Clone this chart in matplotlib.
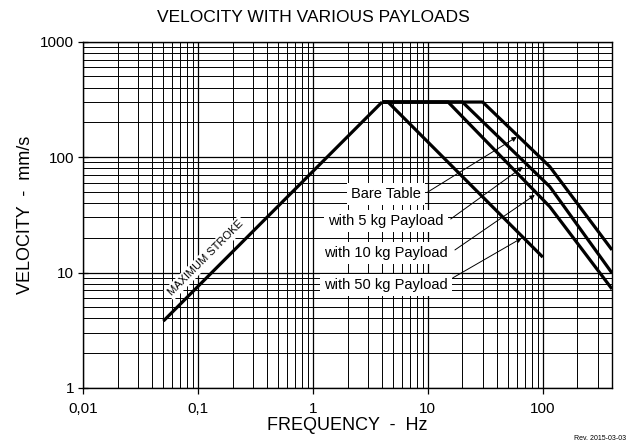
import matplotlib
matplotlib.use("Agg")
import matplotlib.pyplot as plt
from matplotlib.ticker import FixedLocator, LogLocator, NullFormatter

plt.rcParams["font.family"] = ["Liberation Sans", "DejaVu Sans"]

# curve data (frequency Hz, velocity mm/s)
stroke_f = [0.05, 4.0]
stroke_v = [3.8, 300]

bare_f = [4.0, 30, 115, 400]
bare_v = [300, 300, 82.7, 15.7]

kg5_f = [4.0, 20, 115, 400]
kg5_v = [300, 300, 55.5, 9.9]

kg10_f = [4.0, 15, 115, 400]
kg10_v = [300, 300, 37.2, 7.2]

kg50_f = [4.0, 4.5, 100]
kg50_v = [300, 300, 13.6]

x_ticks = [0.01, 0.1, 1, 10, 100]
x_labels = ["0,01", "0,1", "1", "10", "100"]
y_ticks = [1, 10, 100, 1000]
y_labels = ["1", "10", "100", "1000"]

labels = ["Bare Table", "with 5 kg Payload", "with 10 kg Payload", "with 50 kg Payload"]

fig = plt.figure(figsize=(6.27, 4.42), dpi=100)
ax = fig.add_axes([0.1324, 0.1222, 0.8437, 0.7835])

ax.set_xscale("log")
ax.set_yscale("log")
ax.set_xlim(0.01, 400)
ax.set_ylim(1, 1000)

# grid
ax.xaxis.set_minor_locator(LogLocator(base=10, subs=range(2, 10)))
ax.yaxis.set_minor_locator(LogLocator(base=10, subs=range(2, 10)))
ax.xaxis.set_minor_formatter(NullFormatter())
ax.yaxis.set_minor_formatter(NullFormatter())
ax.grid(which="major", color="black", linewidth=0.9)
ax.grid(which="minor", color="black", linewidth=0.7)
ax.set_axisbelow(True)

ax.xaxis.set_major_locator(FixedLocator(x_ticks))
ax.set_xticklabels(x_labels)
ax.yaxis.set_major_locator(FixedLocator(y_ticks))
ax.set_yticklabels(y_labels)
ax.tick_params(axis="x", which="major", direction="out", length=4, width=0.9, labelsize=11, pad=6)
ax.tick_params(axis="y", which="major", direction="inout", length=7, width=0.9, labelsize=11, pad=3)
ax.tick_params(which="minor", length=0)
for sp in ax.spines.values():
    sp.set_color("black")
    sp.set_linewidth(1.0)

# curves
for f, v in [(stroke_f, stroke_v), (bare_f, bare_v), (kg5_f, kg5_v), (kg10_f, kg10_v), (kg50_f, kg50_v)]:
    ax.plot(f, v, color="black", linewidth=2.3, solid_capstyle="butt", zorder=4)

# labels with arrows
text_y = [47.9, 28.0, 14.8, 7.8]
tails = [(10.0, 49.9), (15.8, 29.1), (17.2, 15.7), (16.5, 9.0)]
heads = [(59.4, 149.6), (67.0, 82.2), (85.2, 47.0), (65.6, 19.9)]
for lab, ty, tail, head in zip(labels, text_y, tails, heads):
    ax.text(4.31, ty, lab, ha="center", va="center", fontsize=10.5, zorder=5,
            bbox=dict(facecolor="white", edgecolor="none", pad=3))
    ax.annotate("", xy=head, xytext=tail,
                arrowprops=dict(arrowstyle="-|>", color="black", lw=0.7,
                                mutation_scale=7, shrinkA=0, shrinkB=0),
                zorder=5)

ax.text(0.1175, 13.4, "MAXIMUM STROKE", rotation=45, ha="center", va="center",
        fontsize=8, zorder=5, rotation_mode="anchor",
        bbox=dict(facecolor="white", edgecolor="none", pad=1.5))

fig.text(0.5, 1 - 17 / 442, "VELOCITY WITH VARIOUS PAYLOADS", ha="center", va="center", fontsize=12.5)
fig.text(347.5 / 627, 1 - 426 / 442, "FREQUENCY  -  Hz", ha="center", va="center", fontsize=13)
fig.text(26 / 627, 1 - 215 / 442, "VELOCITY  -  mm/s", ha="center", va="center", rotation=90, fontsize=13)
fig.text(626 / 627, 1 - 439 / 442, "Rev. 2015-03-03", ha="right", va="center", fontsize=5)

fig.savefig("out.png", dpi=100)
